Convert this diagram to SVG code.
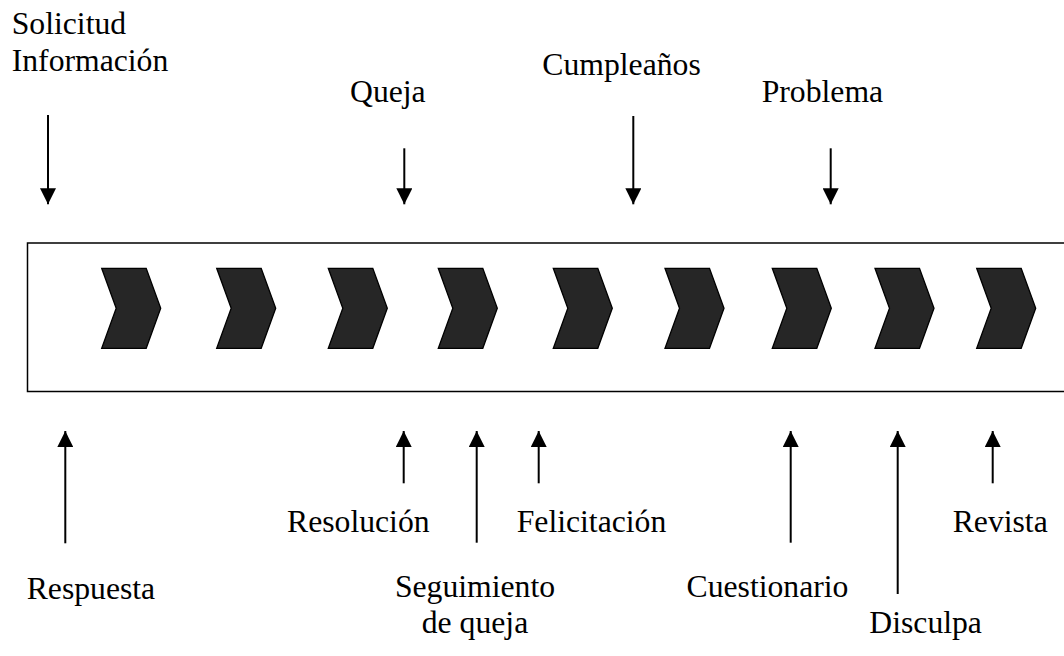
<svg xmlns="http://www.w3.org/2000/svg" xmlns:xlink="http://www.w3.org/1999/xlink" width="1064" height="656" viewBox="0 0 1064 656">
<style>
text { font-family: "Liberation Serif", "Times New Roman", serif; font-size: 31.7px; fill: #000; }
.c { fill: #262626; stroke: #000; stroke-width: 1.3; stroke-linejoin: miter; }
.a { stroke: #000; stroke-width: 2; fill: none; marker-end: url(#ah); }
</style>
<defs>
<marker id="ah" viewBox="0 0 16 16" refX="16" refY="8" markerWidth="16" markerHeight="16" markerUnits="userSpaceOnUse" orient="auto">
<path d="M0,0 L16,8 L0,16 z" fill="#000"/>
</marker>
<polygon id="chev" points="0,0 44.5,0 59,40 44.5,80 0,80 14.5,40"/>
</defs>
<rect width="1064" height="656" fill="#fff"/>
<g id="band">
<rect x="27.5" y="243" width="1100" height="148.5" fill="none" stroke="#000" stroke-width="1.5"/>
</g>
<g id="chevrons">
<g id="chev1"><use xlink:href="#chev" class="c" x="101.7" y="268.3"/></g>
<g id="chev2"><use xlink:href="#chev" class="c" x="216.7" y="268.3"/></g>
<g id="chev3"><use xlink:href="#chev" class="c" x="328.3" y="268.3"/></g>
<g id="chev4"><use xlink:href="#chev" class="c" x="438.3" y="268.3"/></g>
<g id="chev5"><use xlink:href="#chev" class="c" x="553.3" y="268.3"/></g>
<g id="chev6"><use xlink:href="#chev" class="c" x="665" y="268.3"/></g>
<g id="chev7"><use xlink:href="#chev" class="c" x="772.3" y="268.3"/></g>
<g id="chev8"><use xlink:href="#chev" class="c" x="875" y="268.3"/></g>
<g id="chev9"><use xlink:href="#chev" class="c" x="976.7" y="268.3"/></g>
</g>
<g id="labels-top">
<g id="solicitud"><text x="11.7" y="34.3">Solicitud</text><text x="11.7" y="71">Información</text></g>
<g id="queja"><text x="350" y="101.5">Queja</text></g>
<g id="cumpleanos"><text x="542.3" y="75">Cumpleaños</text></g>
<g id="problema"><text x="761.7" y="101.5">Problema</text></g>
</g>
<g id="labels-bottom">
<g id="respuesta"><text x="26.7" y="598.5">Respuesta</text></g>
<g id="resolucion"><text x="287" y="531.5">Resolución</text></g>
<g id="seguimiento"><text x="475" y="597" text-anchor="middle">Seguimiento</text><text x="475" y="633" text-anchor="middle">de queja</text></g>
<g id="felicitacion"><text x="516.7" y="531.5">Felicitación</text></g>
<g id="cuestionario"><text x="686.5" y="597">Cuestionario</text></g>
<g id="disculpa"><text x="869.3" y="633">Disculpa</text></g>
<g id="revista"><text x="952.7" y="531.5">Revista</text></g>
</g>
<g id="connectors">
<line class="a" x1="48" y1="115" x2="48" y2="204.3"/>
<line class="a" x1="404.3" y1="148.3" x2="404.3" y2="204.3"/>
<line class="a" x1="633.3" y1="116" x2="633.3" y2="204.3"/>
<line class="a" x1="830.7" y1="148.3" x2="830.7" y2="204.3"/>
<line class="a" x1="65.3" y1="543.3" x2="65.3" y2="431"/>
<line class="a" x1="403.7" y1="483.3" x2="403.7" y2="431"/>
<line class="a" x1="476.7" y1="542.7" x2="476.7" y2="431"/>
<line class="a" x1="538.7" y1="483.3" x2="538.7" y2="431"/>
<line class="a" x1="790.7" y1="542.7" x2="790.7" y2="431"/>
<line class="a" x1="897.7" y1="594" x2="897.7" y2="431"/>
<line class="a" x1="992.7" y1="483.3" x2="992.7" y2="431"/>
</g>
</svg>
